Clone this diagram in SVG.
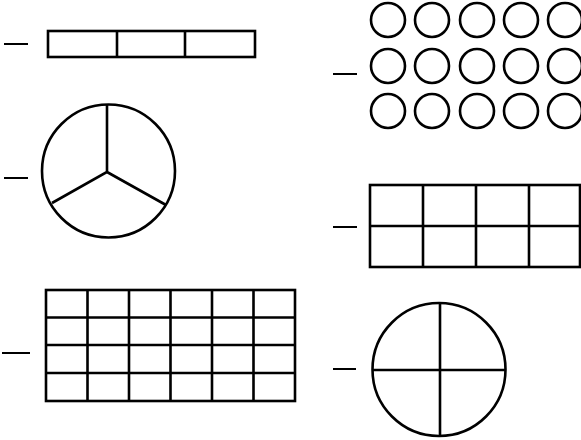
<svg xmlns="http://www.w3.org/2000/svg" width="581" height="440" viewBox="0 0 581 440">
<style>
.s{fill:none;stroke:#000;stroke-width:2.6}
.d{fill:none;stroke:#000;stroke-width:2}
</style>
<rect width="581" height="440" fill="#fff"/>
<g id="bar3">
<line class="d" x1="4" y1="44" x2="28" y2="44"/>
<rect class="s" x="48" y="31" width="207" height="26"/>
<line class="s" x1="117" y1="31" x2="117" y2="57"/>
<line class="s" x1="185" y1="31" x2="185" y2="57"/>
</g>
<g id="circle3">
<line class="d" x1="4" y1="178" x2="28" y2="178"/>
<circle class="s" cx="108.5" cy="171" r="66.5"/>
<path class="s" d="M107,104.5 L107,172 L52,203 M107,172 L166,205"/>
</g>
<g id="grid24">
<line class="d" x1="2" y1="353" x2="30" y2="353"/>
<rect class="s" x="46" y="290" width="249" height="111"/>
<path class="s" d="M87.5,290V401M129,290V401M170.5,290V401M212,290V401M253.5,290V401M46,317.5H295M46,345H295M46,373H295"/>
</g>
<g id="dots15">
<line class="d" x1="333" y1="74" x2="357" y2="74"/>
<g class="s">
<circle cx="388" cy="20" r="17"/><circle cx="432" cy="20" r="17"/><circle cx="477" cy="20" r="17"/><circle cx="521" cy="20" r="17"/><circle cx="565" cy="20" r="17"/>
<circle cx="388" cy="66" r="17"/><circle cx="432" cy="66" r="17"/><circle cx="477" cy="66" r="17"/><circle cx="521" cy="66" r="17"/><circle cx="565" cy="66" r="17"/>
<circle cx="388" cy="111" r="17"/><circle cx="432" cy="111" r="17"/><circle cx="477" cy="111" r="17"/><circle cx="521" cy="111" r="17"/><circle cx="565" cy="111" r="17"/>
</g>
</g>
<g id="grid8">
<line class="d" x1="333" y1="227" x2="357" y2="227"/>
<rect class="s" x="370" y="185" width="210" height="82"/>
<path class="s" d="M423,185V267M476,185V267M529,185V267M370,226H580"/>
</g>
<g id="circle4">
<line class="d" x1="333" y1="369" x2="356" y2="369"/>
<circle class="s" cx="439" cy="369.5" r="66.5"/>
<path class="s" d="M440,303V436M372.5,370H505.5"/>
</g>
</svg>
